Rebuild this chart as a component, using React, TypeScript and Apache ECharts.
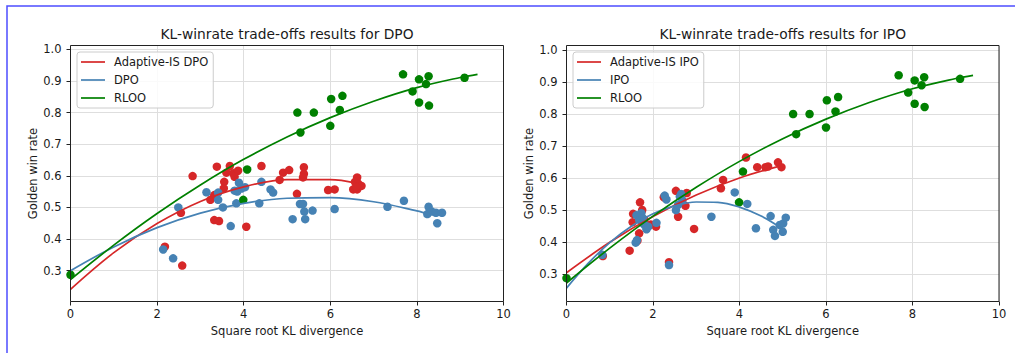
import { useEffect, useRef } from "react";
import * as echarts from "echarts";

// ---------------- data ----------------
const xTickValues = [0, 2, 4, 6, 8, 10];
const yTickValues = [0.3, 0.4, 0.5, 0.6, 0.7, 0.8, 0.9, 1.0];

const rlooX = [0.0, 5.24, 5.62, 5.31, 6.02, 6.28, 6.0, 6.22, 7.68, 8.05, 8.27, 7.9, 8.21, 8.05, 8.28, 9.1, 4.08, 3.99];
const rlooY = [0.287, 0.8, 0.8, 0.737, 0.843, 0.853, 0.758, 0.808, 0.921, 0.905, 0.915, 0.867, 0.89, 0.832, 0.822, 0.91, 0.62, 0.524];

const adaptiveDpoX = [2.18, 2.58, 2.55, 2.82, 3.38, 3.68, 3.6, 3.76, 3.87, 3.79, 3.55, 3.54, 4.41, 3.23, 3.32, 3.32, 3.43, 4.06, 4.83, 4.91, 5.05, 5.39, 5.39, 5.37, 5.23, 5.95, 6.1, 6.62, 6.57, 6.53, 6.62, 6.72, 6.64, 6.6];
const adaptiveDpoY = [0.376, 0.316, 0.483, 0.599, 0.629, 0.631, 0.61, 0.608, 0.616, 0.597, 0.581, 0.56, 0.631, 0.524, 0.539, 0.46, 0.457, 0.439, 0.587, 0.61, 0.618, 0.627, 0.606, 0.595, 0.543, 0.555, 0.557, 0.595, 0.581, 0.557, 0.557, 0.568, 0.576, 0.566];

const dpoX = [2.14, 2.37, 2.49, 3.14, 3.41, 3.41, 3.52, 3.7, 3.89, 3.85, 3.95, 4.03, 3.79, 3.83, 4.41, 4.36, 4.62, 4.68, 5.13, 5.3, 5.37, 5.4, 5.42, 5.59, 6.1, 7.32, 7.7, 8.24, 8.27, 8.34, 8.44, 8.47, 8.58];
const dpoY = [0.367, 0.339, 0.5, 0.548, 0.547, 0.524, 0.5, 0.441, 0.578, 0.55, 0.56, 0.564, 0.553, 0.513, 0.581, 0.513, 0.557, 0.547, 0.463, 0.511, 0.511, 0.487, 0.463, 0.49, 0.495, 0.502, 0.521, 0.479, 0.502, 0.487, 0.483, 0.45, 0.483];

const adaptiveIpoX = [0.84, 1.46, 1.53, 1.54, 1.64, 1.68, 1.7, 1.75, 1.8, 1.95, 2.07, 2.25, 2.37, 2.53, 2.58, 2.75, 2.78, 2.95, 3.57, 3.62, 4.15, 4.41, 4.6, 4.66, 4.89, 4.97];
const adaptiveIpoY = [0.356, 0.373, 0.462, 0.488, 0.404, 0.427, 0.524, 0.5, 0.47, 0.455, 0.448, 0.54, 0.337, 0.56, 0.479, 0.513, 0.553, 0.441, 0.568, 0.594, 0.664, 0.634, 0.634, 0.636, 0.649, 0.634];

const ipoX = [0.83, 1.6, 1.63, 1.62, 1.68, 1.73, 1.75, 1.77, 1.81, 1.85, 1.89, 2.08, 2.27, 2.31, 2.37, 2.53, 2.58, 2.62, 2.65, 2.68, 3.35, 3.89, 4.18, 4.38, 4.72, 4.78, 4.82, 4.93, 5.0, 5.01, 5.07];
const ipoY = [0.36, 0.398, 0.406, 0.484, 0.469, 0.49, 0.46, 0.474, 0.453, 0.44, 0.448, 0.46, 0.545, 0.533, 0.328, 0.5, 0.516, 0.542, 0.55, 0.531, 0.479, 0.555, 0.519, 0.443, 0.481, 0.438, 0.419, 0.453, 0.432, 0.458, 0.476];

// fitted curves
const rlooFitX = [0, 1, 2, 3, 4, 5, 6, 7, 8, 9, 9.4];
const rlooFitY = [0.272, 0.381, 0.481, 0.571, 0.652, 0.723, 0.784, 0.836, 0.879, 0.911, 0.921];
const adaptiveDpoFitX = [0, 1, 2, 3, 4, 5, 6, 6.6];
const adaptiveDpoFitY = [0.241, 0.357, 0.449, 0.519, 0.565, 0.588, 0.588, 0.577];
const dpoFitX = [0, 1, 2, 3, 4, 5, 6, 7, 8, 8.3];
const dpoFitY = [0.3, 0.375, 0.436, 0.482, 0.513, 0.529, 0.531, 0.518, 0.489, 0.478];
const adaptiveIpoFitX = [0, 1, 2, 3, 4, 4.95];
const adaptiveIpoFitY = [0.304, 0.399, 0.48, 0.547, 0.6, 0.638];
const ipoFitX = [0, 0.5, 1, 1.5, 2, 2.5, 3, 3.5, 4, 4.5, 4.95];
const ipoFitY = [0.256, 0.333, 0.398, 0.449, 0.488, 0.513, 0.525, 0.524, 0.509, 0.481, 0.445];

const titles = ["KL-winrate trade-offs results for DPO", "KL-winrate trade-offs results for IPO"];
const legendNames = [
  ["Adaptive-IS DPO", "DPO", "RLOO"],
  ["Adaptive-IS IPO", "IPO", "RLOO"],
];
const xName = "Square root KL divergence";
const yName = "Golden win rate";

// ---------------- styling ----------------
const RED = "#d62728";
const BLUE = "#4682b4";
const GREEN = "#008000";
const FONT = "DejaVu Sans";
const TXT = "#1a1a1a";

const pairs = (xs: number[], ys: number[]) => xs.map((x, i) => [x, ys[i]]);

const panels = [
  { left: 70.5, top: 45.5, width: 433, height: 256, ymin: 0.2025, ymax: 1.0121, legendLeft: 77 },
  { left: 566.5, top: 45.5, width: 432.5, height: 256, ymin: 0.2141, ymax: 1.0141, legendLeft: 573 },
];

export default function App() {
  const ref = useRef<HTMLDivElement>(null);
  useEffect(() => {
    if (!ref.current) return;
    const chart = echarts.init(ref.current, undefined, { renderer: "svg" });

    const isTick = (v: number) => Math.abs(v * 10 - Math.round(v * 10)) < 1e-6;

    const xAxis = panels.map((p, i) => ({
      gridIndex: i,
      type: "value",
      min: 0,
      max: 10,
      interval: 2,
      axisLine: { show: false },
      axisTick: { show: true, length: 4, lineStyle: { color: "#222", width: 1 } },
      axisLabel: { margin: 6, fontSize: 11.5, color: TXT, fontFamily: FONT, customValues: xTickValues },
      splitLine: { show: true, lineStyle: { color: "#dedede", width: 1 } },
      name: xName,
      nameLocation: "middle",
      nameGap: 23,
      nameTextStyle: { fontSize: 11.5, color: TXT, fontFamily: FONT },
    }));

    const yAxis = panels.map((p, i) => ({
      gridIndex: i,
      type: "value",
      min: p.ymin,
      max: p.ymax,
      minInterval: 0.1,
      maxInterval: 0.1,
      axisLine: { show: false },
      axisTick: { show: true, length: 4, lineStyle: { color: "#222", width: 1 }, customValues: yTickValues },
      axisLabel: {
        margin: 9,
        fontSize: 11.5,
        color: TXT,
        fontFamily: FONT,
        customValues: yTickValues,
        formatter: (v: number) => (isTick(v) ? v.toFixed(1) : ""),
      },
      splitLine: { show: true, lineStyle: { color: "#dedede", width: 1 } },
      name: yName,
      nameLocation: "middle",
      nameGap: 32,
      nameTextStyle: { fontSize: 11.5, color: TXT, fontFamily: FONT },
    }));

    const scatter = (name: string, xs: number[], ys: number[], color: string, idx: number, z: number) => ({
      name,
      type: "scatter",
      xAxisIndex: idx,
      yAxisIndex: idx,
      data: pairs(xs, ys),
      symbolSize: 8.5,
      itemStyle: { color, opacity: 1 },
      clip: true,
      z,
    });
    const line = (name: string, xs: number[], ys: number[], color: string, idx: number) => ({
      name,
      type: "line",
      xAxisIndex: idx,
      yAxisIndex: idx,
      data: pairs(xs, ys),
      smooth: 0.35,
      symbol: "none",
      showSymbol: false,
      lineStyle: { color, width: 1.7 },
      itemStyle: { color },
      z: 5,
    });

    const legendBase = {
      orient: "vertical",
      top: 52,
      icon: "rect",
      itemWidth: 24,
      itemHeight: 1.7,
      itemGap: 4,
      padding: [3, 5, 3, 4],
      backgroundColor: "rgba(255,255,255,0.85)",
      borderColor: "#cccccc",
      borderWidth: 1,
      borderRadius: 3,
      textStyle: { fontSize: 11.5, color: TXT, fontFamily: FONT, padding: [0, 0, 0, 4], lineHeight: 14 },
      selectedMode: false,
    };

    chart.setOption({
      animation: false,
      backgroundColor: "#ffffff",
      textStyle: { fontFamily: FONT },
      title: titles.map((t, i) => ({
        text: t,
        left: panels[i].left + panels[i].width / 2,
        top: 26.5,
        textAlign: "center",
        padding: 0,
        textStyle: { fontSize: 13.8, fontWeight: "normal", color: TXT, fontFamily: FONT },
      })),
      legend: panels.map((p, i) => ({ ...legendBase, left: p.legendLeft, data: legendNames[i] })),
      grid: panels.map((p) => ({ left: p.left, top: p.top, width: p.width, height: p.height, containLabel: false })),
      xAxis,
      yAxis,
      series: [
        scatter("Adaptive-IS DPO points", adaptiveDpoX, adaptiveDpoY, RED, 0, 2),
        scatter("DPO points", dpoX, dpoY, BLUE, 0, 3),
        scatter("RLOO points", rlooX, rlooY, GREEN, 0, 4),
        line("Adaptive-IS DPO", adaptiveDpoFitX, adaptiveDpoFitY, RED, 0),
        line("DPO", dpoFitX, dpoFitY, BLUE, 0),
        line("RLOO", rlooFitX, rlooFitY, GREEN, 0),
        scatter("Adaptive-IS IPO points", adaptiveIpoX, adaptiveIpoY, RED, 1, 2),
        scatter("IPO points", ipoX, ipoY, BLUE, 1, 3),
        scatter("RLOO points ", rlooX, rlooY, GREEN, 1, 4),
        line("Adaptive-IS IPO", adaptiveIpoFitX, adaptiveIpoFitY, RED, 1),
        line("IPO", ipoFitX, ipoFitY, BLUE, 1),
        line("RLOO", rlooFitX, rlooFitY, GREEN, 1),
      ],
      graphic: [
        ...panels.map((p) => ({
          type: "rect",
          silent: true,
          z: 100,
          shape: { x: p.left, y: p.top, width: p.width, height: p.height },
          style: { fill: "none", stroke: "#222", lineWidth: 1 },
        })),
        {
          type: "rect",
          silent: true,
          z: 100,
          shape: { x: 7, y: 6, width: 1100, height: 500 },
          style: { fill: "none", stroke: "#4d4dff", lineWidth: 1.5 },
        },
      ],
    });
    return () => chart.dispose();
  }, []);
  return (
    <div
      ref={ref}
      style={{ position: "fixed", left: 0, top: 0, width: 1015, height: 353, background: "#fff" }}
    />
  );
}
